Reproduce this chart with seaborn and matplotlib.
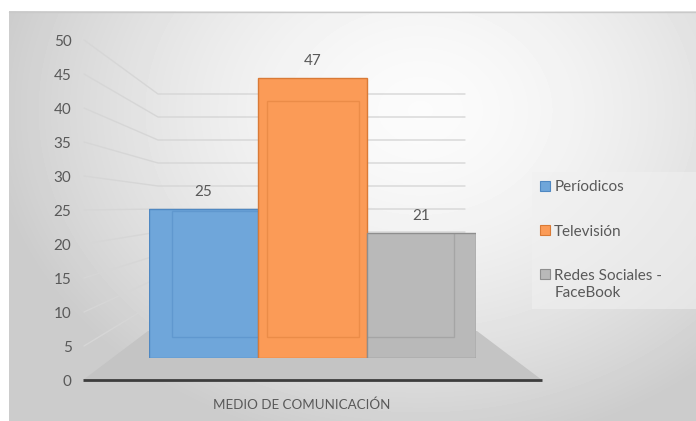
import numpy as np
import pandas as pd
import matplotlib
matplotlib.use("Agg")
import matplotlib.pyplot as plt
from matplotlib.patches import Polygon, Patch
import seaborn as sns

# Data
medios = ["Períodicos", "Televisión", "Redes Sociales -\nFaceBook"]
valores = [25, 47, 21]
y_ticks = [0, 5, 10, 15, 20, 25, 30, 35, 40, 45, 50]
categoria = "MEDIO DE COMUNICACIÓN"

# Styling
colores = ["#6fa6da", "#fb9b57", "#b9b9b9"]
bordes = ["#4f88c2", "#d97a36", "#8e8e8e"]
TEXT = "#595959"

W, H = 696, 421
sns.set_theme(style="white")
plt.rcParams["font.family"] = ["Lato", "DejaVu Sans"]

fig = plt.figure(figsize=(W / 100, H / 100), dpi=100)


def box(x0, y0, x1, y1):
    """Pixel box (origin top-left) -> figure-fraction rect."""
    return [x0 / W, 1 - y1 / H, (x1 - x0) / W, (y1 - y0) / H]


# ---- canvas in pixel coordinates: gradient, walls, floor ----
bg = fig.add_axes([0, 0, 1, 1])
yy, xx = np.mgrid[11:H, 9:W]
d = np.sqrt(((xx - 420) / 430.0) ** 2 + ((yy - 110) / 340.0) ** 2)
t = np.clip(d, 0, 1) ** 1.6
shade = 0.985 + (0.80 - 0.985) * t
bg.imshow(shade, cmap="gray", vmin=0, vmax=1, extent=(9, W, H, 11),
          origin="upper", aspect="auto", interpolation="bilinear", zorder=0)
bg.plot([9, W], [11.5, 11.5], color="#c9c9c9", lw=1, zorder=1)
bg.set_xlim(0, W)
bg.set_ylim(H, 0)
bg.axis("off")

# front plane (value axis) and back wall geometry
FX0, FX1, F0, F50 = 84, 542, 380, 40
BX0, BX1, B0, B50 = 158, 465, 324, 94


def y_front(v):
    return F0 + (F50 - F0) * v / 50.0


def y_back(v):
    return B0 + (B50 - B0) * v / 50.0


for v in y_ticks[1:]:
    bg.plot([FX0, BX0, BX1], [y_front(v), y_back(v), y_back(v)],
            color="#d6d6d6", lw=1, zorder=2)

bg.add_patch(Polygon([(83, 380), (542, 380), (477, 331), (148, 331)],
                     closed=True, facecolor="#c4c4c4", edgecolor="none", zorder=3))
bg.plot([83, 542], [380, 380], color="#3d3d3d", lw=2, zorder=4,
        solid_capstyle="butt")

# ---- value axis labels on the front plane ----
ax_y = fig.add_axes(box(FX0, F50, FX1, F0))
ax_y.set_facecolor("none")
ax_y.set_ylim(0, 50)
ax_y.set_xlim(0, 1)
ax_y.set_yticks(y_ticks)
ax_y.set_yticklabels([str(v) for v in y_ticks])
ax_y.set_xticks([])
ax_y.tick_params(axis="y", length=0, pad=9, labelsize=11, labelcolor=TEXT)
sns.despine(ax=ax_y, left=True, bottom=True)

# ---- columns ----
df = pd.DataFrame({"medio": medios, "valor": valores})
pal = dict(zip(medios, colores))

PX0, PX1, PBOT, PTOP = 149, 476, 358, 58
ymax = (PBOT - PTOP) / 5.96

ax = fig.add_axes(box(PX0, PTOP, PX1, PBOT))
ax.set_facecolor("none")
sns.barplot(data=df, x="medio", y="valor", hue="medio", palette=pal,
            width=1.0, saturation=1, legend=False, ax=ax, linewidth=1)
for p, ec in zip(ax.patches, bordes):
    p.set_edgecolor(ec)
ax.set_xlim(-0.5, 2.5)
ax.set_ylim(0, ymax)
ax.axis("off")
for c in ax.containers:
    ax.bar_label(c, padding=7, color=TEXT, fontsize=11)

# back faces of the columns, seen through each translucent front
VX, VY, KX, KY = 314, 223, 0.87, 0.844
bx0, bx1 = VX + (PX0 - VX) * KX, VX + (PX1 - VX) * KX
by0, by1 = VY + (PTOP - VY) * KY, VY + (PBOT - VY) * KY
ax_b = fig.add_axes(box(bx0, by0, bx1, by1))
ax_b.set_facecolor("none")
sns.barplot(data=df, x="medio", y="valor", hue="medio", palette=pal,
            width=0.97, fill=False, legend=False, ax=ax_b, linewidth=1)
for pb, pf, ec in zip(ax_b.patches, ax.patches, bordes):
    pb.set_edgecolor(ec)
    pb.set_alpha(0.45)
    pb.set_clip_path(pf)
ax_b.set_xlim(-0.5, 2.5)
ax_b.set_ylim(0, ymax)
ax_b.axis("off")

# category label
fig.text(302 / W, 1 - 405 / H, categoria, ha="center", va="center",
         color=TEXT, fontsize=9.6)

# legend
handles = [Patch(facecolor=c, edgecolor=e, lw=0.8) for c, e in zip(colores, bordes)]
leg = fig.legend(handles, medios, loc="upper left",
                 bbox_to_anchor=(532 / W, 1 - 172 / H, (W - 532) / W, 0.001),
                 bbox_transform=fig.transFigure, mode="expand",
                 frameon=True, fontsize=11, labelcolor=TEXT,
                 handlelength=0.65, handleheight=0.65, handletextpad=0.25,
                 labelspacing=2.0, borderpad=0.55, borderaxespad=0)
leg.get_frame().set_facecolor("#f0f0f0")
leg.get_frame().set_edgecolor("none")
leg.get_frame().set_alpha(0.6)
leg.get_frame().set_boxstyle("square", pad=0)
for txt in leg.get_texts():
    txt.set_linespacing(1.3)
# keep the swatch of the two-line entry level with its first line
try:
    rows = leg._legend_handle_box.get_children()[0].get_children()
    rows[-1].align = "top"
except Exception:
    pass

fig.savefig("out.png", dpi=100)
